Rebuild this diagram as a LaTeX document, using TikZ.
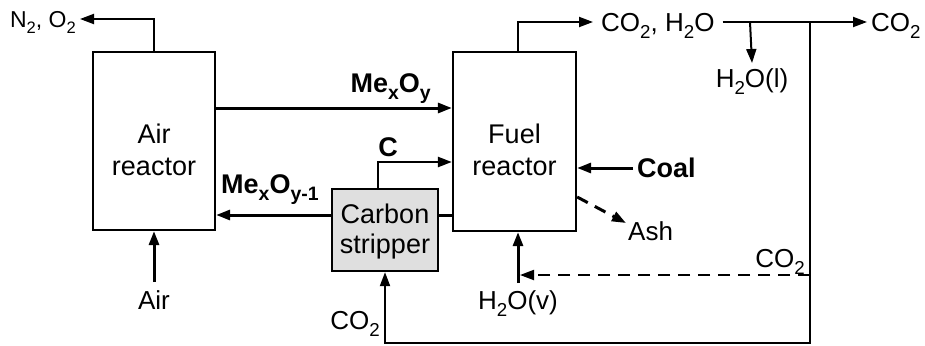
\documentclass[tikz,border=0pt]{standalone}
\usepackage{fontspec}
\setmainfont{Liberation Sans}
\usetikzlibrary{arrows.meta}
\newcommand\sbs[1]{\raisebox{-0.28em}{\scalebox{0.72}{#1}}}
\begin{document}
\begin{tikzpicture}[x=1pt,y=-1pt,
  box/.style={draw,line width=2.3pt,inner sep=0pt},
  boxtxt/.style={inner sep=0pt,align=center,font=\fontsize{27}{32}\selectfont},
  lbl/.style={inner sep=0pt,text depth=0pt,font=\fontsize{26}{28}\selectfont},
  blbl/.style={inner sep=0pt,text depth=0pt,font=\fontsize{27}{28}\selectfont\bfseries},
  tip/.style={-{Triangle[length=14pt,width=10pt]}},
  thn/.style={line width=2pt,tip},
  thk/.style={line width=3pt,tip},
  dsh/.style={dash pattern=on 12pt off 8pt},
]
\useasboundingbox (0,0) rectangle (925,345);
% boxes
\node[box,minimum width=122pt,minimum height=178pt] (air) at (154,141) {};
\node[box,minimum width=123pt,minimum height=179pt] (fuel) at (514.5,141.5) {};
\node[box,fill=gray!25,minimum width=106pt,minimum height=82pt] (cs) at (385,230) {};
\node[boxtxt] (airt) at (154,150) {Air\\reactor};
\node[boxtxt] (fuelt) at (514.5,150) {Fuel\\reactor};
\node[boxtxt,font=\fontsize{27}{30}\selectfont] (cst) at (385,232) {Carbon\\stripper};
% helper coordinates
\coordinate (yMe) at (0,108);
\coordinate (yMe1) at (0,215);
\coordinate (yC) at (0,162);
\coordinate (xC) at (378,0);
\coordinate (yCoal) at (0,168);
\coordinate (yAsh) at (0,197);
\coordinate (xFt) at (518,0);
\coordinate (j1) at (750,22);
\coordinate (j2) at (810,22);
\coordinate (j4) at (810,275);
\coordinate (j3) at (810,343);
\coordinate (d1) at (520,275);
\coordinate (ashend) at (626,223);
% labels
\node[lbl,font=\fontsize{23}{26}\selectfont,anchor=east,inner xsep=4pt] (n2o2) at (80,19) {N\sbs{2}, O\sbs{2}};
\node[blbl,anchor=base east] (mexoy) at (431,92) {Me\sbs{x}O\sbs{y}};
\node[blbl,anchor=base west] (mexoy1) at (221,193) {Me\sbs{x}O\sbs{y-1}};
\node[blbl,anchor=base] (clbl) at (388,156) {C};
\node[lbl,anchor=west,inner xsep=8pt] (co2h2o) at (593,22) {CO\sbs{2}, H\sbs{2}O};
\node[lbl,anchor=west,inner xsep=4pt] (co2r) at (867,22) {CO\sbs{2}};
\node[lbl,anchor=north,inner ysep=5pt] (h2ol) at (752,63) {H\sbs{2}O(l)};
\node[lbl,anchor=north,inner ysep=7pt] (h2ov) at (518,283) {H\sbs{2}O(v)};
\node[lbl,anchor=north,inner ysep=8pt] (airl) at (154,282) {Air};
\node[blbl,anchor=west,inner xsep=4pt] (coal) at (633,168) {Coal};
\node[lbl,anchor=base west] (ash) at (628,240) {Ash};
\node[lbl] (co2d) at (780,258) {CO\sbs{2}};
\node[lbl] (co2b) at (355,320) {CO\sbs{2}};
% connectors
\draw[thn] (air.north) |- (n2o2.east);
\draw[thk] (air.east |- yMe) -- (fuel.west |- yMe);
\draw[thk] (cs.west |- yMe1) -- (air.east |- yMe1);
\draw[line width=3pt] (cs.east |- yMe1) -- (fuel.west |- yMe1);
\draw[line width=2.5pt,tip] (cs.north -| xC) |- (fuel.west |- yC);
\draw[thn] (fuel.north -| xFt) |- (co2h2o.west);
\draw[thn] (co2h2o.east) -- (co2r.west);
\draw[thn] (j1) -- (h2ol.north);
\draw[thn] (j2) -- (j3) -| (cs.south);
\draw[thn,dsh] (j4) -- (d1);
\draw[thk] (h2ov.north) -- (fuel.south -| xFt);
\draw[thk] (coal.west) -- (fuel.east |- yCoal);
\draw[thk,dsh] (fuel.east |- yAsh) -- (ashend);
\draw[thk] (airl.north) -- (air.south);
\end{tikzpicture}
\end{document}
